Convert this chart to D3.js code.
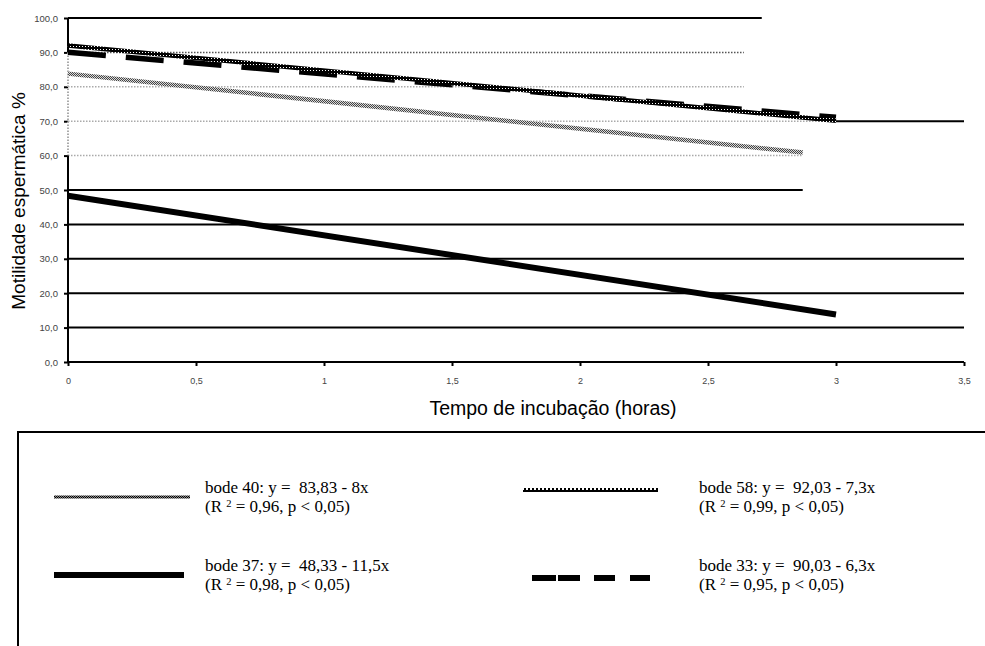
<!DOCTYPE html>
<html>
<head>
<meta charset="utf-8">
<script src="https://cdn.jsdelivr.net/npm/d3@7"></script>
<style>
  html, body { margin: 0; padding: 0; background: #fff; }
  svg { display: block; }
  text { white-space: pre; }
</style>
</head>
<body>
<svg id="chart" width="985" height="646"></svg>
<script>
// ---------------- DATA ----------------
const seriesNames = ["bode 40", "bode 58", "bode 37", "bode 33"];
// regression lines (start & end points)
const seriesX = {
  "bode 40": [0, 2.87],
  "bode 58": [0, 3.0],
  "bode 37": [0, 3.0],
  "bode 33": [0, 3.0]
};
const seriesY = {
  "bode 40": [83.83, 60.87],
  "bode 58": [92.03, 70.13],
  "bode 37": [48.33, 13.83],
  "bode 33": [90.03, 71.13]
};
const equations = {
  "bode 40": ["bode 40: y =  83,83 - 8x", "0,96"],
  "bode 58": ["bode 58: y =  92,03 - 7,3x", "0,99"],
  "bode 37": ["bode 37: y =  48,33 - 11,5x", "0,98"],
  "bode 33": ["bode 33: y =  90,03 - 6,3x", "0,95"]
};
const yTicks = [0, 10, 20, 30, 40, 50, 60, 70, 80, 90, 100];
const yTickLabels = ["0,0","10,0","20,0","30,0","40,0","50,0","60,0","70,0","80,0","90,0","100,0"];
const xTicks = [0, 0.5, 1, 1.5, 2, 2.5, 3, 3.5];
const xTickLabels = ["0","0,5","1","1,5","2","2,5","3","3,5"];
// gridline segments as they appear (value, x-from, x-to, kind)
const gridValues = [100, 90, 80, 70, 70, 60, 50, 40, 30, 20, 10];
const gridFrom   = [0,   0,  0,  0,  3.0, 0,  0,  0,  0,  0,  0];
const gridTo     = [2.71, 2.64, 2.64, 3.0, 3.5, 2.87, 2.87, 3.5, 3.5, 3.5, 3.5];
const gridKind   = ["solid","darkdot","dot","dot","solid","dot","solid","solid","solid","solid","solid"];
// y-axis line segments
const yAxisFrom = [100, 90, 60];
const yAxisTo   = [90, 60, 0];
const yAxisKind = ["solid", "dot", "solid"];

// ---------------- DRAW ----------------
const svg = d3.select("#chart");
const x = d3.scaleLinear().domain([0, 3.5]).range([68, 964]);
const y = d3.scaleLinear().domain([0, 100]).range([362, 18]);

const defs = svg.append("defs");
// dark checker (bode 58)
const p58 = defs.append("pattern").attr("id","pat58").attr("patternUnits","userSpaceOnUse")
  .attr("width",3).attr("height",3);
p58.append("rect").attr("width",3).attr("height",3).attr("fill","#000");
p58.append("rect").attr("x",1).attr("y",1).attr("width",1).attr("height",1).attr("fill","#fff");
// gray checker (bode 40)
const p40 = defs.append("pattern").attr("id","pat40").attr("patternUnits","userSpaceOnUse")
  .attr("width",2).attr("height",2);
p40.append("rect").attr("width",2).attr("height",2).attr("fill","#d8d8d8");
p40.append("rect").attr("width",1).attr("height",1).attr("fill","#444");
p40.append("rect").attr("x",1).attr("y",1).attr("width",1).attr("height",1).attr("fill","#444");
// legend patterns
const pl40 = defs.append("pattern").attr("id","patL40").attr("patternUnits","userSpaceOnUse")
  .attr("width",2).attr("height",2);
pl40.append("rect").attr("width",2).attr("height",2).attr("fill","#888");
pl40.append("rect").attr("width",1).attr("height",1).attr("fill","#000");
pl40.append("rect").attr("x",1).attr("y",1).attr("width",1).attr("height",1).attr("fill","#000");
const pl58 = defs.append("pattern").attr("id","patL58").attr("patternUnits","userSpaceOnUse")
  .attr("width",4).attr("height",4).attr("y",488);
pl58.append("rect").attr("width",4).attr("height",4).attr("fill","#000");
pl58.append("rect").attr("x",2).attr("y",0).attr("width",2).attr("height",2).attr("fill","#fff");

const gridStyles = {
  solid:   {stroke: "#000", width: 2, dash: null},
  darkdot: {stroke: "#555", width: 1.5, dash: "1.5,1.5"},
  dot:     {stroke: "#aaa", width: 1.5, dash: "1.5,1.5"}
};

// gridlines
svg.append("g").selectAll("line").data(gridValues.map((v,i)=>({v, f:gridFrom[i], t:gridTo[i], k:gridKind[i]})))
  .join("line")
  .attr("x1", d => x(d.f)).attr("x2", d => x(d.t))
  .attr("y1", d => y(d.v)).attr("y2", d => y(d.v))
  .attr("stroke", d => gridStyles[d.k].stroke)
  .attr("stroke-width", d => gridStyles[d.k].width)
  .attr("stroke-dasharray", d => gridStyles[d.k].dash);

// x axis
const xAxis = d3.axisBottom(x).tickValues(xTicks).tickFormat((d,i)=>xTickLabels[i]).tickSize(4).tickPadding(12);
const gx = svg.append("g").attr("transform", `translate(0,${y(0)})`).call(xAxis);
gx.select(".domain").attr("stroke","#000").attr("stroke-width",2).attr("d", `M${x(0)},0H${x(3.5)}`);
gx.selectAll(".tick line").attr("stroke","#000").attr("stroke-width",2);
gx.selectAll(".tick text").attr("font-family","Liberation Sans, Arial, sans-serif").attr("font-size","9px").attr("fill","#444");

// y axis
const yAxis = d3.axisLeft(y).tickValues(yTicks).tickFormat((d,i)=>yTickLabels[i]).tickSize(4).tickPadding(6);
const gy = svg.append("g").attr("transform", `translate(${x(0)},0)`).call(yAxis);
gy.select(".domain").remove();
gy.selectAll(".tick line").attr("stroke","#000").attr("stroke-width",2);
gy.selectAll(".tick text").attr("font-family","Liberation Sans, Arial, sans-serif").attr("font-size","9.5px").attr("fill","#444");
svg.append("g").selectAll("line").data(yAxisFrom.map((f,i)=>({f, t:yAxisTo[i], k:yAxisKind[i]})))
  .join("line")
  .attr("x1", x(0)).attr("x2", x(0))
  .attr("y1", d => y(d.f)).attr("y2", d => y(d.t))
  .attr("stroke", d => gridStyles[d.k].stroke)
  .attr("stroke-width", 2)
  .attr("stroke-dasharray", d => gridStyles[d.k].dash);

// series
const seriesStyle = {
  "bode 40": {stroke: "url(#pat40)", width: 4.5, dash: null},
  "bode 58": {stroke: "url(#pat58)", width: 4.5, dash: null},
  "bode 37": {stroke: "#000", width: 6, dash: null},
  "bode 33": {stroke: "#000", width: 5.5, dash: "38,20"}
};
const drawOrder = ["bode 40", "bode 37", "bode 33", "bode 58"];
const line = d3.line().x(d => x(d[0])).y(d => y(d[1]));
svg.append("g").selectAll("path").data(drawOrder).join("path")
  .attr("d", s => line(seriesX[s].map((xv,i)=>[xv, seriesY[s][i]])))
  .attr("fill","none")
  .attr("stroke", s => seriesStyle[s].stroke)
  .attr("stroke-width", s => seriesStyle[s].width)
  .attr("stroke-dasharray", s => seriesStyle[s].dash);

// axis titles
svg.append("text").attr("x", 553).attr("y", 415).attr("text-anchor","middle")
  .attr("font-family","Liberation Sans, Arial, sans-serif").attr("font-size","19.5px").attr("fill","#000")
  .text("Tempo de incubação (horas)");
svg.append("text").attr("transform","translate(25,201) rotate(-90)").attr("text-anchor","middle")
  .attr("font-family","Liberation Sans, Arial, sans-serif").attr("font-size","19px").attr("fill","#000")
  .text("Motilidade espermática %");

// legend box
svg.append("path").attr("d","M18,646V432H985").attr("fill","none").attr("stroke","#000").attr("stroke-width",2);

const legendPos = {
  "bode 40": {sx1: 54, sx2: 190, sy: 497, tx: 205, ty: 493},
  "bode 37": {sx1: 54, sx2: 184, sy: 575, tx: 205, ty: 571},
  "bode 58": {sx1: 523, sx2: 658, sy: 490, tx: 699, ty: 493},
  "bode 33": {sx1: 532, sx2: 650, sy: 578, tx: 699, ty: 571}
};
const legendStyle = {
  "bode 40": {stroke: "url(#patL40)", width: 3, dash: null},
  "bode 58": {stroke: "url(#patL58)", width: 4, dash: null},
  "bode 37": {stroke: "#000", width: 6, dash: null},
  "bode 33": {stroke: "#000", width: 6, dash: "24,2,22,14,21,15,20,30"}
};
const lg = svg.append("g");
seriesNames.forEach(s => {
  const p = legendPos[s], st = legendStyle[s];
  lg.append("line").attr("x1", p.sx1).attr("x2", p.sx2).attr("y1", p.sy).attr("y2", p.sy)
    .attr("stroke", st.stroke).attr("stroke-width", st.width).attr("stroke-dasharray", st.dash);
  lg.append("text").attr("font-family","Liberation Serif, Times New Roman, serif")
    .attr("font-size","17px").attr("fill","#000").attr("x", p.tx).attr("y", p.ty)
    .text(equations[s][0]);
  const t2 = lg.append("text").attr("font-family","Liberation Serif, Times New Roman, serif")
    .attr("font-size","17px").attr("fill","#000").attr("x", p.tx).attr("y", p.ty + 19);
  t2.append("tspan").text("(R ");
  t2.append("tspan").attr("font-size","10.5px").attr("dy",-5).text("2");
  t2.append("tspan").attr("dy",5).text(" = " + equations[s][1] + ", p < 0,05)");
});
</script>
</body>
</html>
